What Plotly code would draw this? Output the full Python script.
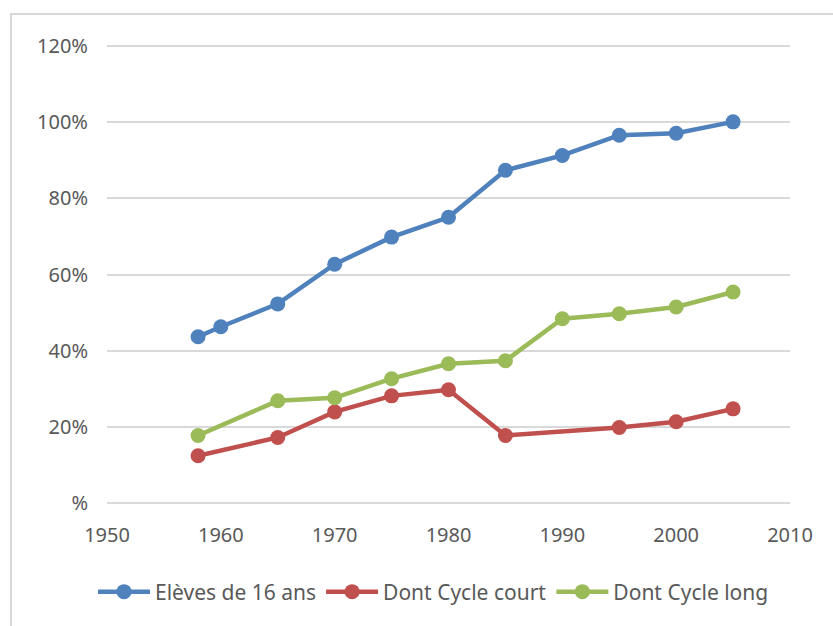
import plotly.graph_objects as go

years_all = [1958, 1960, 1965, 1970, 1975, 1980, 1985, 1990, 1995, 2000, 2005]
eleves_16 = [43.7, 46.3, 52.3, 62.7, 69.8, 75.0, 87.3, 91.2, 96.5, 97.0, 100.0]

years_court = [1958, 1965, 1970, 1975, 1980, 1985, 1995, 2000, 2005]
cycle_court = [12.5, 17.3, 24.0, 28.2, 29.8, 17.8, 19.9, 21.4, 24.8]

years_long = [1958, 1965, 1970, 1975, 1980, 1985, 1990, 1995, 2000, 2005]
cycle_long = [17.8, 26.9, 27.7, 32.7, 36.6, 37.4, 48.4, 49.7, 51.5, 55.4]

series_names = ["Elèves de 16 ans", "Dont Cycle court", "Dont Cycle long"]
colors = ["#4F81BD", "#C0504D", "#9BBB59"]

y_ticks = [0, 20, 40, 60, 80, 100, 120]
y_ticklabels = ["%", "20%", "40%", "60%", "80%", "100%", "120%"]
x_ticks = [1950, 1960, 1970, 1980, 1990, 2000, 2010]

fig = go.Figure()
for xs, ys, name, c in [(years_all, eleves_16, series_names[0], colors[0]),
                        (years_court, cycle_court, series_names[1], colors[1]),
                        (years_long, cycle_long, series_names[2], colors[2])]:
    fig.add_trace(go.Scatter(x=xs, y=ys, name=name, mode="lines+markers",
                             line=dict(color=c, width=4.5),
                             marker=dict(color=c, size=15)))

W, H = 833, 626
L, R, T, B = 107, 43, 44, 121
pw, ph = W - L - R, H - T - B

fig.update_layout(
    width=W, height=H,
    margin=dict(l=L, r=R, t=T, b=B, autoexpand=False),
    paper_bgcolor="white", plot_bgcolor="white",
    font=dict(family="Noto Sans, sans-serif", size=20, color="#595959"),
    showlegend=True,
    legend=dict(orientation="h", xref="container", yref="container",
                x=433.5 / W, xanchor="center", y=1 - 592 / H, yanchor="middle",
                font=dict(size=21, color="#595959"), itemwidth=52,
                traceorder="normal"),
    xaxis=dict(range=[1950, 2010], tickvals=x_ticks, showgrid=False, zeroline=False,
               showline=False, ticks="", ticklabelstandoff=16,
               tickfont=dict(size=20, color="#595959")),
    yaxis=dict(range=[-0.4, 120.4], tickvals=y_ticks, ticktext=y_ticklabels,
               showgrid=True, gridcolor="#D9D9D9", gridwidth=1.5, zeroline=False,
               showline=False, ticks="", ticklabelstandoff=18,
               tickfont=dict(size=20, color="#595959")),
    shapes=[dict(type="rect", xref="paper", yref="paper",
                 x0=(11 - L) / pw, x1=(900 - L) / pw,
                 y0=-1.0, y1=(H - B - 14) / ph,
                 line=dict(color="#D9D9D9", width=2), fillcolor="rgba(0,0,0,0)",
                 layer="below")],
)

fig.write_html("out.html", config={"displayModeBar": False},
               post_script="document.body.style.margin='0';")
